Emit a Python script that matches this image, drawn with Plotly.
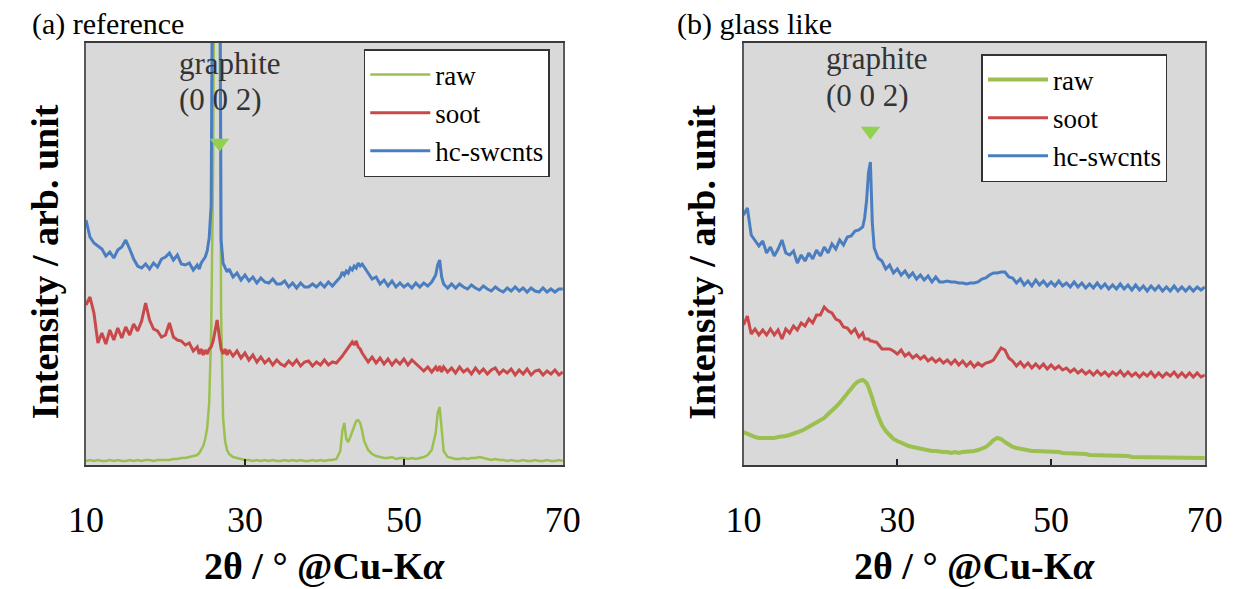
import plotly.graph_objects as go

# ---------------- data (2theta in degrees, intensity in arbitrary units) ----------------
x_a = [10, 10.5, 11, 11.5, 12, 12.5, 13, 13.5, 14, 14.5, 15, 15.5, 16, 16.5, 17, 17.5, 18, 18.5, 19, 19.5,
       20, 20.5, 21, 21.5, 22, 22.5, 23, 23.5,
       24, 24.25, 24.5, 24.75, 25, 25.25, 25.5, 25.75, 26, 26.25, 26.5, 26.75, 27, 27.25, 27.5, 27.75,
       28, 28.5, 29, 29.5, 30, 30.5, 31, 31.5, 32, 32.5, 33, 33.5, 34, 34.5, 35, 35.5, 36, 36.5, 37, 37.5,
       38, 38.5, 39, 39.5, 40, 40.5, 41, 41.5,
       42, 42.25, 42.5, 42.75, 43, 43.25, 43.5, 43.75, 44, 44.25, 44.5, 44.75,
       45, 45.5, 46, 46.5, 47, 47.5, 48, 48.5, 49, 49.5, 50, 50.5, 51, 51.5, 52, 52.5, 53, 53.5,
       54, 54.25, 54.5, 54.75,
       55, 55.5, 56, 56.5, 57, 57.5, 58, 58.5, 59, 59.5, 60, 60.5, 61, 61.5, 62, 62.5, 63, 63.5, 64, 64.5,
       65, 65.5, 66, 66.5, 67, 67.5, 68, 68.5, 69, 69.5, 70]

raw_a = [2, 3, 2, 3, 2, 2, 3, 2, 3, 2, 2, 3, 2, 3, 2, 3, 3, 2, 3, 3,
         3, 3, 4, 4, 5, 5, 6, 7,
         8, 10, 13, 17, 24, 35, 60, 130, 300, 700, 1100, 600, 150, 45, 22, 13,
         9, 6, 5, 4, 3, 3, 2, 3, 2, 3, 2, 3, 2, 2, 3, 2, 3, 2, 3, 2,
         2, 3, 2, 3, 2, 3, 3, 4,
         12, 32, 40, 24, 21, 26, 32, 38, 42, 43, 40, 32,
         22, 13, 9, 7, 6, 5, 5, 6, 4, 5, 5, 4, 5, 4, 5, 6, 8, 13,
         30, 50, 56, 33,
         12, 6, 5, 4, 4, 5, 4, 5, 5, 6, 5, 4, 3, 4, 3, 3, 2, 3, 2, 2,
         3, 2, 2, 3, 2, 2, 3, 2, 2, 3, 2]

soot_a = [158, 166, 150, 120, 130, 119, 133, 123, 135, 125, 136, 128, 139, 132, 142, 160, 143, 134, 132, 126,
          128, 140, 126, 123, 122, 118, 120, 112,
          116, 109, 114, 108, 113, 109, 114, 116, 122, 134, 143, 128, 114, 109, 114, 108,
          113, 107, 112, 105, 110, 103, 108, 101, 106, 100, 104, 98, 103, 99, 97, 102, 98, 103, 97, 101,
          102, 97, 101, 98, 103, 98, 101, 100,
          104, 107, 110, 113, 116, 119, 121, 118, 122, 116, 114, 110,
          107, 101, 106, 100, 105, 99, 104, 98, 103, 99, 104, 98, 103, 99, 96, 92, 96, 91,
          96, 92, 97, 91,
          96, 91, 95, 90, 96, 91, 94, 89, 95, 90, 94, 89, 93, 95, 89, 93, 90, 94, 88, 93,
          89, 94, 88, 92, 93, 88, 92, 89, 93, 88, 91]

hc_a = [243, 226, 220, 217, 214, 207, 211, 205, 213, 216, 223, 214, 204, 197, 195, 199, 194, 200, 196, 204,
        206, 210, 203, 208, 199, 198, 200, 193,
        198, 194, 200, 203, 206, 212, 225, 258, 363, 900, 1400, 700, 223, 200, 195, 191,
        194, 186, 190, 183, 188, 182, 186, 180, 185, 181, 180, 184, 179, 179, 182, 176, 180, 175, 180, 176,
        176, 179, 176, 180, 176, 181, 177, 182,
        186, 191, 188, 192, 190, 195, 193, 197, 195, 200, 197, 199,
        196, 190, 184, 186, 179, 183, 177, 182, 176, 180, 176, 179, 175, 180, 176, 180, 177, 181,
        188, 198, 203, 186,
        179, 175, 179, 175, 179, 176, 174, 178, 175, 173, 177, 174, 172, 176, 173, 171, 175, 172, 176, 172,
        175, 171, 175, 172, 171, 175, 171, 174, 171, 174, 174]

x_b = [10, 10.5, 11, 11.5, 12, 12.5, 13, 13.5, 14, 14.5, 15, 15.5, 16, 16.5, 17, 17.5, 18, 18.5, 19, 19.5,
       20, 20.5, 21, 21.5, 22, 22.5, 23, 23.5, 24, 24.5, 25, 25.5,
       25.75, 26, 26.25, 26.5, 26.75, 27, 27.25,
       27.5, 28, 28.5, 29, 29.5, 30, 30.5, 31, 31.5, 32,
       32.5, 33, 33.5, 34, 34.5, 35, 35.5, 36, 36.5, 37,
       37.5, 38, 38.5, 39, 39.5, 40, 40.5, 41, 41.5, 42,
       42.5, 43, 43.5, 44, 44.5, 45, 45.5, 46, 46.5, 47,
       47.5, 48, 48.5, 49, 49.5, 50, 50.5, 51, 51.5, 52,
       52.5, 53, 53.5, 54, 54.5, 55, 55.5, 56, 56.5, 57,
       57.5, 58, 58.5, 59, 59.5, 60, 60.5, 61, 61.5, 62,
       62.5, 63, 63.5, 64, 64.5, 65, 65.5, 66, 66.5, 67,
       67.5, 68, 68.5, 69, 69.5, 70]

raw_b = [31, 29, 27, 26, 25, 25, 24, 25, 25, 26, 26, 27, 28, 29, 31, 32, 34, 36, 38, 40,
         43, 45, 49, 52, 56, 60, 65, 70, 75, 79, 82, 83,
         82, 80, 76, 71, 65, 58, 52,
         47, 38, 32, 28, 24, 22, 20, 18, 17, 16,
         15, 14, 13, 13, 12, 12, 11, 11, 11, 10,
         11, 10, 11, 11, 12, 12, 13, 14, 16, 19,
         23, 25, 24, 21, 18, 16, 15, 14, 13, 13,
         12, 12, 12, 11, 12, 11, 11, 11, 10, 10,
         10, 9, 9, 9, 9, 8, 8, 8, 8, 8,
         7, 7, 7, 7, 7, 7, 6, 6, 6, 6,
         6, 6, 5, 5, 5, 5, 5, 5, 5, 5,
         5, 5, 5, 5, 5, 5]

soot_b = [138, 147, 129, 134, 128, 133, 128, 134, 128, 133, 124, 134, 130, 137, 133, 140, 137, 144, 140, 148,
          148, 156, 152, 150, 144, 142, 136, 135, 130, 134, 126, 130,
          124, 124, 124, 122, 122, 121, 121,
          119, 114, 114, 114, 112, 109, 113, 107, 110, 105,
          108, 104, 107, 102, 105, 101, 104, 100, 103, 99,
          103, 98, 102, 97, 101, 96, 100, 97, 100, 101,
          103, 109, 115, 113, 105, 102, 97, 101, 96, 100,
          95, 99, 95, 99, 94, 98, 94, 97, 93, 95,
          91, 94, 90, 93, 89, 92, 88, 92, 88, 91,
          87, 91, 88, 92, 87, 91, 87, 90, 86, 90,
          87, 91, 86, 90, 86, 90, 87, 91, 86, 90,
          86, 90, 86, 90, 86, 88]

hc_b = [248, 255, 228, 223, 217, 222, 210, 216, 207, 214, 223, 210, 208, 212, 200, 208, 202, 210, 204, 213,
        207, 216, 210, 219, 214, 223, 218, 226, 227, 232, 233, 236,
        245, 262, 290, 301, 240, 215, 210,
        205, 202, 194, 198, 190, 194, 188, 192, 186, 190,
        184, 188, 183, 187, 181, 186, 181, 181, 182, 181,
        181, 180, 180, 179, 180, 180, 181, 184, 185, 188,
        190, 190, 191, 191, 186, 185, 180, 184, 178, 182,
        177, 183, 178, 182, 177, 181, 177, 182, 177, 180,
        176, 181, 176, 180, 175, 179, 175, 180, 175, 179,
        174, 178, 174, 179, 174, 178, 173, 178, 173, 177,
        172, 177, 173, 177, 172, 176, 172, 177, 172, 176,
        172, 176, 172, 176, 173, 176]

series_names = ["raw", "soot", "hc-swcnts"]
series_colors = ["#9bc050", "#c9484a", "#4a7ec0"]

# graphite (0 0 2) marker positions
mark_a_x, mark_a_y = [26.8], [320]
mark_b_x, mark_b_y = [26.5], [332]

# ---------------- figure ----------------
W, H = 1252, 589
SERIF = "Times New Roman, Liberation Serif, serif"

fig = go.Figure()

panel_a = [raw_a, soot_a, hc_a]
panel_b = [raw_b, soot_b, hc_b]
widths_a = [2.5, 3, 3]
widths_b = [4, 3, 3]

for name, col, ys, lw in zip(series_names, series_colors, panel_a, widths_a):
    n = min(len(x_a), len(ys))
    fig.add_trace(go.Scatter(x=x_a[:n], y=ys[:n], mode="lines", name=name,
                             line=dict(color=col, width=lw), xaxis="x", yaxis="y",
                             legend="legend"))
for name, col, ys, lw in zip(series_names, series_colors, panel_b, widths_b):
    n = min(len(x_b), len(ys))
    fig.add_trace(go.Scatter(x=x_b[:n], y=ys[:n], mode="lines", name=name,
                             line=dict(color=col, width=lw), xaxis="x2", yaxis="y2",
                             legend="legend2"))

fig.add_trace(go.Scatter(x=mark_a_x, y=mark_a_y, mode="markers", showlegend=False,
                         marker=dict(symbol="triangle-down", size=17, color="#92d050"),
                         xaxis="x", yaxis="y", hoverinfo="skip"))
fig.add_trace(go.Scatter(x=mark_b_x, y=mark_b_y, mode="markers", showlegend=False,
                         marker=dict(symbol="triangle-down", size=17, color="#92d050"),
                         xaxis="x2", yaxis="y2", hoverinfo="skip"))

ydom = [1 - 465 / H, 1 - 43 / H]
xaxis_common = dict(range=[10, 70], tickvals=[10, 30, 50, 70], ticks="inside", ticklen=6,
                    tickwidth=1.5, tickcolor="#222", showgrid=False, zeroline=False,
                    showline=True, linecolor="#3a3a3a", linewidth=2, mirror=True,
                    tickfont=dict(family=SERIF, size=36, color="black"),
                    ticklabelstandoff=22)
yaxis_common = dict(range=[-2, 420], showticklabels=False, ticks="", showgrid=False,
                    zeroline=False, showline=True, linecolor="#5a5a5a", linewidth=1.5,
                    mirror=True)

legend_common = dict(xanchor="left", yanchor="top", bgcolor="white", bordercolor="#333",
                     borderwidth=1.5, font=dict(family=SERIF, size=27, color="black"),
                     tracegroupgap=0, itemwidth=60)

ann = []
for txt, px in [("(a) reference", 12), ("(b) glass like", 676)]:
    ann.append(dict(text=txt, x=px / W, y=1 - 24 / H, xref="paper", yref="paper",
                    xanchor="left", yanchor="middle", showarrow=False,
                    font=dict(family=SERIF, size=30, color="black")))
for px in [28, 704]:
    ann.append(dict(text="Intensity / arb. unit", x=px / W, y=1 - 262 / H, xref="paper",
                    yref="paper", xanchor="center", yanchor="middle", textangle=-90,
                    showarrow=False,
                    font=dict(family=SERIF, size=38, color="black", weight="bold")))
for px in [315.5, 984.5]:
    ann.append(dict(text="2θ / ° @Cu-K<i>α</i>", x=px / W, y=1 - 566 / H, xref="paper",
                    yref="paper", xanchor="center", yanchor="middle", showarrow=False,
                    font=dict(family=SERIF, size=38, color="black", weight="bold")))
for xr, yr, gx, gy, ly in [("x", "y", 21.4, 400, 364), ("x2", "y2", 20.5, 405, 368)]:
    ann.append(dict(text="graphite", x=gx, y=gy, xref=xr, yref=yr, xanchor="left",
                    yanchor="middle", showarrow=False,
                    font=dict(family=SERIF, size=31, color="#333")))
    ann.append(dict(text="(0 0 2)", x=gx, y=ly, xref=xr, yref=yr, xanchor="left",
                    yanchor="middle", showarrow=False,
                    font=dict(family=SERIF, size=31, color="#333")))

fig.update_layout(
    width=W, height=H, autosize=False,
    margin=dict(l=0, r=0, t=0, b=0),
    paper_bgcolor="white", plot_bgcolor="#d9d9d9",
    xaxis=dict(domain=[70 / W, 561 / W], anchor="y", **xaxis_common),
    yaxis=dict(domain=ydom, anchor="x", **yaxis_common),
    xaxis2=dict(domain=[747 / W, 1222 / W], anchor="y2", **xaxis_common),
    yaxis2=dict(domain=ydom, anchor="x2", **yaxis_common),
    legend=dict(x=356 / W, y=1 - 49 / H, **legend_common),
    legend2=dict(x=992 / W, y=1 - 54 / H, **legend_common),
    annotations=ann,
    showlegend=True,
)

fig.write_html("out.html")
